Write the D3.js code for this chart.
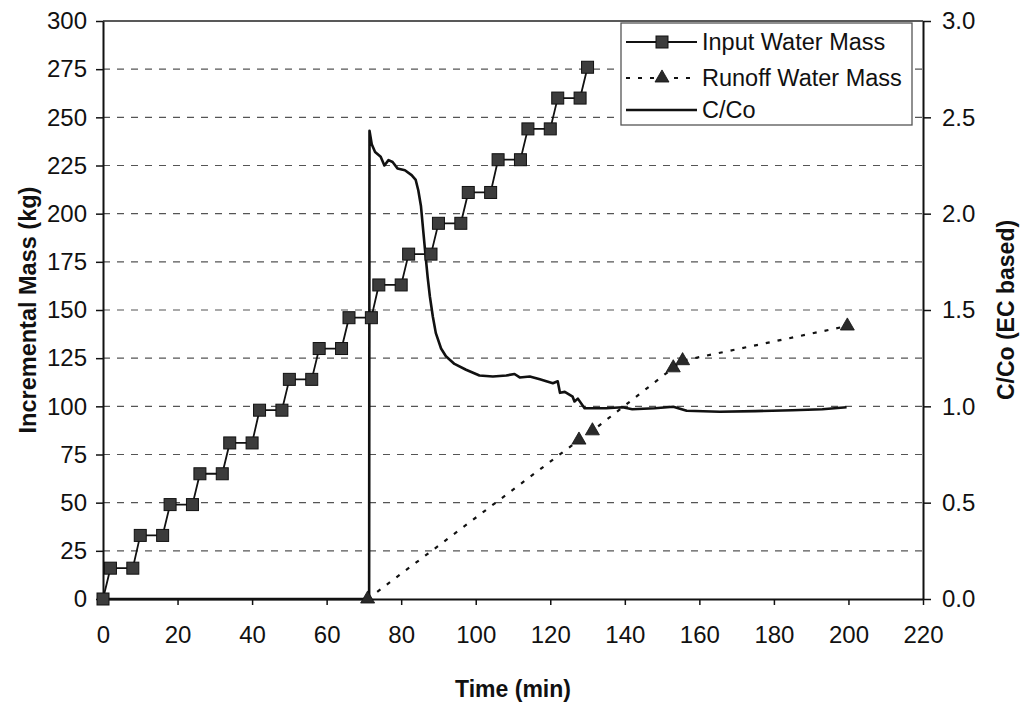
<!DOCTYPE html>
<html>
<head>
<meta charset="utf-8">
<script src="https://cdn.jsdelivr.net/npm/d3@7"></script>
<style>
  html, body { margin: 0; padding: 0; background: #fff; }
  svg { display: block; font-family: "Liberation Sans", Arial, Helvetica, sans-serif; }
</style>
</head>
<body>
<svg id="chart" width="1022" height="705"></svg>
<script>
// Input water mass (kg) — stepwise additions
const inputTime = [0, 2, 8, 10, 16, 18, 24, 26, 32, 34, 40, 42, 48, 50, 56, 58, 64, 66,
  72, 74, 80, 82, 88, 90, 96, 98, 104, 106, 112, 114, 120, 122, 128, 130];
const inputMass = [0, 16, 16, 33, 33, 49, 49, 65, 65, 81, 81, 98, 98, 114, 114, 130, 130, 146,
  146, 163, 163, 179, 179, 195, 195, 211, 211, 228, 228, 244, 244, 260, 260, 276];

// Runoff water mass (kg)
const runoffTime = [71, 127.7, 131.3, 153.0, 155.5, 199.7];
const runoffMass = [0, 82.5, 87.3, 120.0, 123.7, 141.7];

// Relative concentration C/Co (EC based)
const cocTime = [0, 71.4, 71.5, 72.1, 73.0, 74.5, 75.5, 76.6, 77.7, 79.0, 81.0, 82.8, 83.9,
  84.6, 85.3, 85.9, 86.5, 87.1, 87.7, 88.5, 89.3, 90.7, 92.0, 94.3, 97.4, 101.0, 104.6,
  108.2, 110.4, 111.8, 114.5, 117.2, 120.7, 122.0, 122.6, 123.9, 126.0, 126.5, 127.4,
  129.2, 135.0, 139.4, 142.0, 148.0, 153.0, 156.6, 165.5, 175.0, 185.0, 193.0, 199.5];
const cocValue = [0, 0, 2.43, 2.36, 2.32, 2.295, 2.25, 2.278, 2.268, 2.235, 2.225, 2.20, 2.175,
  2.12, 2.04, 1.915, 1.79, 1.67, 1.57, 1.465, 1.38, 1.30, 1.26, 1.22, 1.19, 1.16, 1.155,
  1.16, 1.168, 1.15, 1.155, 1.14, 1.12, 1.13, 1.07, 1.075, 1.05, 1.025, 1.04,
  0.99, 0.99, 0.995, 0.985, 0.99, 0.998, 0.977, 0.972, 0.975, 0.98, 0.985, 0.995];

// Axis ticks
const xTicks = [0, 20, 40, 60, 80, 100, 120, 140, 160, 180, 200, 220];
const leftTicks = [0, 25, 50, 75, 100, 125, 150, 175, 200, 225, 250, 275, 300];
const rightTicks = [0, 0.5, 1.0, 1.5, 2.0, 2.5, 3.0];

const seriesNames = ["Input Water Mass", "Runoff Water Mass", "C/Co"];

const svg = d3.select("#chart");
const L = 103, R = 923, T = 21, B = 599;

const x = d3.scaleLinear().domain([0, 220]).range([L, R]);
const yL = d3.scaleLinear().domain([0, 300]).range([B, T]);
const yR = d3.scaleLinear().domain([0, 3]).range([B, T]);

// Horizontal dashed gridlines
svg.append("g").selectAll("line")
  .data(leftTicks.filter(v => v > 0 && v < 300))
  .join("line")
  .attr("x1", L).attr("x2", R)
  .attr("y1", d => yL(d)).attr("y2", d => yL(d))
  .attr("stroke", "#555").attr("stroke-width", 1.2)
  .attr("stroke-dasharray", "7,7");

// Plot frame: top border
svg.append("line").attr("x1", L).attr("x2", R).attr("y1", T).attr("y2", T)
  .attr("stroke", "#222").attr("stroke-width", 1.5);

const fontSize = 24;

// Axes
const xAxis = svg.append("g").attr("transform", `translate(0,${B})`)
  .call(d3.axisBottom(x).tickValues(xTicks).tickFormat(d3.format("d"))
    .tickSizeInner(6).tickSizeOuter(0).tickPadding(21));
const yAxisL = svg.append("g").attr("transform", `translate(${L},0)`)
  .call(d3.axisLeft(yL).tickValues(leftTicks).tickFormat(d3.format("d"))
    .tickSizeInner(7).tickSizeOuter(0).tickPadding(9));
const yAxisR = svg.append("g").attr("transform", `translate(${R},0)`)
  .call(d3.axisRight(yR).tickValues(rightTicks).tickFormat(d3.format(".1f"))
    .tickSizeInner(8).tickSizeOuter(0).tickPadding(11));

[xAxis, yAxisL, yAxisR].forEach(g => {
  g.selectAll(".domain").attr("stroke", "#111").attr("stroke-width", 2);
  g.selectAll(".tick line").attr("stroke", "#111").attr("stroke-width", 1.5);
  g.selectAll(".tick text").attr("fill", "#111")
    .style("font-size", fontSize + "px")
    .style("font-family", '"Liberation Sans", Arial, sans-serif');
});

// Axis titles
svg.append("text").attr("x", (L + R) / 2).attr("y", 697)
  .attr("text-anchor", "middle").attr("font-weight", "bold")
  .style("font-size", "23px").attr("fill", "#111").text("Time (min)");
svg.append("text").attr("transform", `translate(28,${(T + B) / 2}) rotate(-90)`)
  .attr("text-anchor", "middle").attr("dominant-baseline", "central")
  .attr("font-weight", "bold").style("font-size", "23.5px").attr("fill", "#111")
  .text("Incremental Mass (kg)");
svg.append("text").attr("transform", `translate(1006,${(T + B) / 2}) rotate(-90)`)
  .attr("text-anchor", "middle").attr("dominant-baseline", "central")
  .attr("font-weight", "bold").style("font-size", "23px").attr("fill", "#111")
  .text("C/Co (EC based)");

// C/Co curve
const cocData = cocTime.map((t, i) => [t, cocValue[i]]);
svg.append("path").datum(cocData)
  .attr("fill", "none").attr("stroke", "#111").attr("stroke-width", 2.6)
  .attr("stroke-linejoin", "round")
  .attr("d", d3.line().x(d => x(d[0])).y(d => yR(d[1])));

// Runoff water mass: dotted line with triangles
const runoffData = runoffTime.map((t, i) => [t, runoffMass[i]]);
svg.append("path").datum(runoffData)
  .attr("fill", "none").attr("stroke", "#111").attr("stroke-width", 2.2)
  .attr("stroke-dasharray", "4,8")
  .attr("d", d3.line().x(d => x(d[0])).y(d => yL(d[1])));
const tri = d3.symbol().type(d3.symbolTriangle).size(85);
svg.append("g").selectAll("path").data(runoffData).join("path")
  .attr("transform", d => `translate(${x(d[0])},${yL(d[1])})`)
  .attr("d", tri).attr("fill", "#2a2a2a").attr("stroke", "#111").attr("stroke-width", 0.8);

// Input water mass: solid line with square markers
const inputData = inputTime.map((t, i) => [t, inputMass[i]]);
svg.append("path").datum(inputData)
  .attr("fill", "none").attr("stroke", "#111").attr("stroke-width", 1.8)
  .attr("d", d3.line().x(d => x(d[0])).y(d => yL(d[1])));
const sq = 12;
svg.append("g").selectAll("rect").data(inputData).join("rect")
  .attr("x", d => x(d[0]) - sq / 2).attr("y", d => yL(d[1]) - sq / 2)
  .attr("width", sq).attr("height", sq)
  .attr("fill", "#3c3c3c").attr("stroke", "#111").attr("stroke-width", 1);

// Legend
const lg = svg.append("g");
lg.append("rect").attr("x", 621).attr("y", 23).attr("width", 291).attr("height", 102)
  .attr("fill", "#fff").attr("stroke", "#555").attr("stroke-width", 1.3);
const rows = [42, 78, 110];
const sx1 = 626, sx2 = 697, sxm = 662;
// row 1
lg.append("line").attr("x1", sx1).attr("x2", sx2).attr("y1", rows[0]).attr("y2", rows[0])
  .attr("stroke", "#111").attr("stroke-width", 1.8);
lg.append("rect").attr("x", sxm - sq / 2).attr("y", rows[0] - sq / 2).attr("width", sq).attr("height", sq)
  .attr("fill", "#3c3c3c").attr("stroke", "#111").attr("stroke-width", 1);
// row 2
lg.append("line").attr("x1", sx1).attr("x2", sx2).attr("y1", rows[1]).attr("y2", rows[1])
  .attr("stroke", "#111").attr("stroke-width", 2.2).attr("stroke-dasharray", "4,8");
lg.append("path").attr("transform", `translate(${sxm},${rows[1]})`).attr("d", tri)
  .attr("fill", "#2a2a2a").attr("stroke", "#111").attr("stroke-width", 0.8);
// row 3
lg.append("line").attr("x1", sx1).attr("x2", sx2).attr("y1", rows[2]).attr("y2", rows[2])
  .attr("stroke", "#111").attr("stroke-width", 2.6);
lg.selectAll("text.lbl").data(seriesNames).join("text").attr("class", "lbl")
  .attr("x", 702).attr("y", (d, i) => rows[i])
  .attr("dominant-baseline", "central").style("font-size", "23.5px").attr("fill", "#111")
  .text(d => d);
</script>
</body>
</html>
